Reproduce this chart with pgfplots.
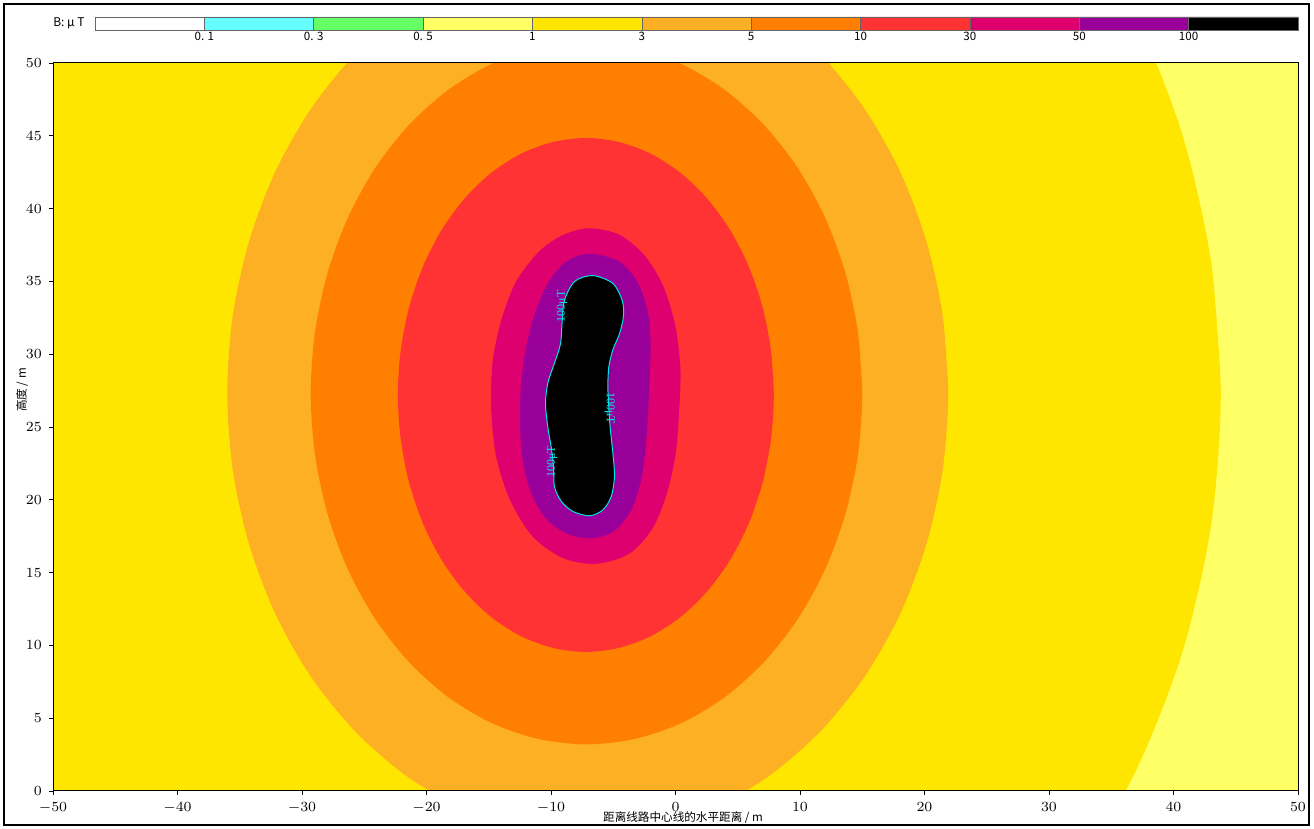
\documentclass[border=0pt]{standalone}
\usepackage{pgfplots}
\pgfplotsset{compat=1.18}
\usepackage{fontspec}
\newfontfamily\cjk{Noto Sans CJK SC}
\newfontfamily\lser{Liberation Serif}
\definecolor{cLY}{RGB}{255,255,102}
\definecolor{cY}{RGB}{255,230,0}
\definecolor{cLO}{RGB}{253,176,36}
\definecolor{cO}{RGB}{255,128,0}
\definecolor{cR}{RGB}{255,51,51}
\definecolor{cM}{RGB}{222,0,110}
\definecolor{cP}{RGB}{153,0,153}
\definecolor{cC}{RGB}{102,255,255}
\definecolor{cG}{RGB}{102,255,102}
\definecolor{cLine}{RGB}{0,230,230}
\begin{document}
\begin{tikzpicture}
\path[use as bounding box] (-26.5pt,-19pt) rectangle (630.5pt,395.5pt);
\fill[white] (-26.5pt,-19pt) rectangle (630.5pt,395.5pt);
\draw[line width=1.2pt] (-24.5pt,-17pt) rectangle (628pt,393.5pt);
\begin{axis}[at={(0pt,0pt)}, anchor=south west, scale only axis,
  width=622.5pt, height=364pt,
  xmin=-50, xmax=50, ymin=0, ymax=50,
  xtick={-50,-40,...,50}, ytick={0,5,...,50},
  tick align=outside, xtick pos=bottom, ytick pos=left,
  major tick length=2pt, tick style={black, line width=0.4pt},
  axis line style={line width=0.5pt, black},
  axis background/.style={fill=cLY},
  ticklabel style={font=\fontsize{6.6}{7}\selectfont},
  axis on top]
% 1 uT contour (yellow inside)
\addplot[fill=cY, draw=none, smooth] coordinates {
(43.8,27.3) (43.03,36.29) (40.73,45.02) (36.98,53.2) (31.89,60.6) (25.62,66.98) (18.35,72.16) (10.31,75.98) (1.74,78.31) (-7.1,79.1)
(-15.94,78.31) (-24.51,75.98) (-32.55,72.16) (-39.82,66.98) (-46.09,60.6) (-51.18,53.2) (-54.93,45.02) (-57.23,36.29) (-58.0,27.3)
(-57.23,18.31) (-54.93,9.58) (-51.18,1.4) (-46.09,-6.0) (-39.82,-12.38) (-32.55,-17.56) (-24.51,-21.38) (-15.94,-23.71) (-7.1,-24.5)
(1.74,-23.71) (10.31,-21.38) (18.35,-17.56) (25.62,-12.38) (31.89,-6.0) (36.98,1.4) (40.73,9.58) (43.03,18.31) (43.8,27.3) (43.03,36.29)};
% 3 uT contour
\addplot[fill=cLO, draw=none, smooth] coordinates {
(21.9,27.35) (21.46,32.64) (20.15,37.76) (18.02,42.58) (15.13,46.92) (11.56,50.67) (7.43,53.72) (2.85,55.96) (-2.02,57.34) (-7.05,57.8)
(-12.08,57.34) (-16.95,55.96) (-21.53,53.72) (-25.66,50.67) (-29.23,46.92) (-32.12,42.58) (-34.25,37.76) (-35.56,32.64) (-36.0,27.35)
(-35.56,22.06) (-34.25,16.94) (-32.12,12.12) (-29.23,7.78) (-25.66,4.03) (-21.53,0.98) (-16.95,-1.26) (-12.08,-2.64) (-7.05,-3.1)
(-2.02,-2.64) (2.85,-1.26) (7.43,0.98) (11.56,4.03) (15.13,7.78) (18.02,12.12) (20.15,16.94) (21.46,22.06) (21.9,27.35) (21.46,32.64)};
% 5 uT contour
\addplot[fill=cO, draw=none, smooth] coordinates {
(15.0,27.3) (14.66,31.48) (13.66,35.54) (12.03,39.35) (9.82,42.79) (7.09,45.76) (3.93,48.17) (0.43,49.95) (-3.3,51.03) (-7.15,51.4)
(-11.0,51.03) (-14.73,49.95) (-18.23,48.17) (-21.39,45.76) (-24.12,42.79) (-26.33,39.35) (-27.96,35.54) (-28.96,31.48) (-29.3,27.3)
(-28.96,23.12) (-27.96,19.06) (-26.33,15.25) (-24.12,11.81) (-21.39,8.84) (-18.23,6.43) (-14.73,4.65) (-11.0,3.57) (-7.15,3.2)
(-3.3,3.57) (0.43,4.65) (3.93,6.43) (7.09,8.84) (9.82,11.81) (12.03,15.25) (13.66,19.06) (14.66,23.12) (15.0,27.3) (14.66,31.48)};
% 10 uT contour
\addplot[fill=cR, draw=none, smooth] coordinates {
(7.9,27.2) (7.67,30.26) (6.99,33.24) (5.88,36.03) (4.37,38.55) (2.51,40.72) (0.35,42.49) (-2.04,43.79) (-4.58,44.58) (-7.2,44.85)
(-9.82,44.58) (-12.36,43.79) (-14.75,42.49) (-16.91,40.72) (-18.77,38.55) (-20.28,36.03) (-21.39,33.24) (-22.07,30.26) (-22.3,27.2)
(-22.07,24.14) (-21.39,21.16) (-20.28,18.37) (-18.77,15.85) (-16.91,13.68) (-14.75,11.91) (-12.36,10.61) (-9.82,9.82) (-7.2,9.55)
(-4.58,9.82) (-2.04,10.61) (0.35,11.91) (2.51,13.68) (4.37,15.85) (5.88,18.37) (6.99,21.16) (7.67,24.14) (7.9,27.2) (7.67,30.26)};
% 30 uT contour
\addplot[fill=cM, draw=none, smooth] coordinates {
(0.4,28.9) (0.3,26.2) (0.05,23.4) (-0.6,20.7) (-1.8,18.1) (-3.7,16.3) (-6.4,15.6) (-9.05,16.0) (-11.5,17.5) (-13.3,20.0)
(-14.4,22.95) (-14.8,26.2) (-14.7,29.4) (-14.0,32.3) (-12.8,35.0) (-10.9,37.1) (-9.0,38.2) (-6.9,38.65) (-4.5,38.2) (-2.5,36.8)
(-1.0,34.7) (0.0,31.9) (0.4,28.9) (0.3,26.2)};
% 50 uT contour
\addplot[fill=cP, draw=none, smooth] coordinates {
(-2.0,30.5) (-2.1,28.2) (-2.2,25.9) (-2.4,23.6) (-2.75,21.4) (-3.56,19.3) (-5.0,17.8) (-6.9,17.35) (-8.8,17.7) (-10.5,18.8)
(-11.7,20.7) (-12.3,22.9) (-12.5,25.5) (-12.4,28.0) (-12.0,30.5) (-11.3,32.8) (-10.26,34.86) (-8.8,36.35) (-6.9,36.9) (-4.5,36.35)
(-3.0,34.86) (-2.2,32.8) (-2.0,30.5) (-2.1,28.2)};
% 100 uT contour
\addplot[fill=black, draw=cLine, line width=0.5pt, smooth] coordinates {
(-5.44,27.75) (-5.36,26.4) (-5.25,25.0) (-5.03,23.2) (-4.9,21.6) (-5.17,20.2) (-5.84,19.3) (-6.9,18.9) (-8.25,19.2) (-9.18,19.9)
(-9.72,20.9) (-9.8,22.3) (-9.98,23.6) (-10.26,25.0) (-10.44,26.6) (-10.26,28.0) (-9.72,29.4) (-9.24,30.7) (-9.1,32.3) (-8.92,33.7)
(-8.1,35.0) (-6.64,35.4) (-5.03,34.86) (-4.28,33.7) (-4.18,32.6) (-4.5,31.4) (-5.03,30.3) (-5.36,29.1) (-5.44,27.75)};
\node[rotate=90, text=cLine, font=\lser\fontsize{6}{6}\selectfont, inner sep=0.3pt] at (axis cs:-9.1,33.3) {100μT};
\node[rotate=-90, text=cLine, font=\lser\fontsize{6}{6}\selectfont, inner sep=0.3pt] at (axis cs:-5.3,26.3) {100μT};
\node[rotate=90, text=cLine, font=\lser\fontsize{6}{6}\selectfont, inner sep=0.3pt] at (axis cs:-9.9,22.6) {100μT};
\end{axis}
% colour bar
\begin{axis}[at={(21pt,380.5pt)}, anchor=south west, scale only axis,
  width=601.5pt, height=6.5pt,
  xmin=0, xmax=11, ymin=0, ymax=1,
  xtick={1,...,10}, xticklabels={0. 1,0. 3,0. 5,1,3,5,10,30,50,100},
  ytick=\empty, major tick length=0pt,
  axis line style={draw=black!60, line width=0.4pt},
  xticklabel style={font=\cjk\fontsize{5.8}{6}\selectfont, inner sep=1pt},
  clip=false]
\addplot[fill=white, draw=black!60, line width=0.3pt] coordinates {(0,0) (1,0) (1,1) (0,1) (0,0)};
\addplot[fill=cC, draw=black!60, line width=0.3pt] coordinates {(1,0) (2,0) (2,1) (1,1) (1,0)};
\addplot[fill=cG, draw=black!60, line width=0.3pt] coordinates {(2,0) (3,0) (3,1) (2,1) (2,0)};
\addplot[fill=cLY, draw=black!60, line width=0.3pt] coordinates {(3,0) (4,0) (4,1) (3,1) (3,0)};
\addplot[fill=cY, draw=black!60, line width=0.3pt] coordinates {(4,0) (5,0) (5,1) (4,1) (4,0)};
\addplot[fill=cLO, draw=black!60, line width=0.3pt] coordinates {(5,0) (6,0) (6,1) (5,1) (5,0)};
\addplot[fill=cO, draw=black!60, line width=0.3pt] coordinates {(6,0) (7,0) (7,1) (6,1) (6,0)};
\addplot[fill=cR, draw=black!60, line width=0.3pt] coordinates {(7,0) (8,0) (8,1) (7,1) (7,0)};
\addplot[fill=cM, draw=black!60, line width=0.3pt] coordinates {(8,0) (9,0) (9,1) (8,1) (8,0)};
\addplot[fill=cP, draw=black!60, line width=0.3pt] coordinates {(9,0) (10,0) (10,1) (9,1) (9,0)};
\addplot[fill=black, draw=black!60, line width=0.3pt] coordinates {(10,0) (11,0) (11,1) (10,1) (10,0)};
\end{axis}
\node[anchor=east, font=\cjk\fontsize{6}{6}\selectfont, inner sep=0pt] at (16pt,383.75pt) {B: μ T};
\node[font=\cjk\fontsize{5.8}{6}\selectfont, inner sep=0pt] at (315pt,-13.5pt) {距离线路中心线的水平距离 / m};
\node[rotate=90, font=\cjk\fontsize{5.8}{6}\selectfont, inner sep=0pt] at (-15.5pt,200.5pt) {高度 / m};
\end{tikzpicture}
\end{document}
